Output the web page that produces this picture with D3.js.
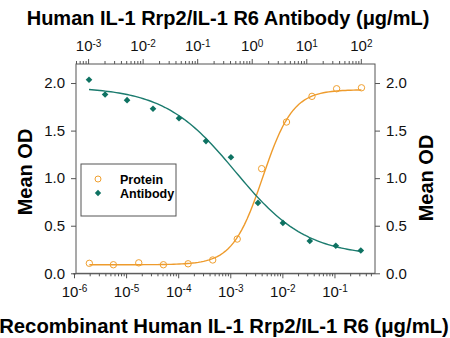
<!DOCTYPE html>
<html><head><meta charset="utf-8">
<script src="https://cdn.jsdelivr.net/npm/d3@7"></script>
<style>body{margin:0;background:#fff}svg{display:block;font-family:"Liberation Sans",Arial,sans-serif}</style>
</head><body>
<svg id="c" width="450" height="338"></svg>
<script>
// Protein (bottom axis, µg/mL)
const proteinConc = [1.97e-6,5.7e-6,1.75e-5,5.2e-5,1.55e-4,4.6e-4,1.36e-3,4.0e-3,0.012,0.037,0.11,0.33];
const proteinOD   = [0.105,0.09,0.11,0.09,0.10,0.14,0.36,1.10,1.59,1.86,1.94,1.95];
// Antibody (top axis, µg/mL)
const antibodyConc = [1.04e-3,2.05e-3,5.18e-3,0.0155,0.0464,0.145,0.416,1.30,3.73,11.6,34.8,100];
const antibodyOD   = [2.035,1.88,1.82,1.73,1.63,1.39,1.22,0.74,0.53,0.34,0.29,0.24];
// 4-parameter logistic fit parameters: [bottom, top, EC50, hill]
const proteinFit  = [0.09, 1.93, 4.2e-3, 1.5];
const antibodyFit = [0.18, 1.96, 0.5, 0.666];
const yTicks = [0,0.5,1.0,1.5,2.0];
const bottomTicks = [-6,-5,-4,-3,-2,-1];
const topTicks = [-3,-2,-1,0,1,2];

const svg = d3.select("#c");
const L=76, R=375, T=64, B=273.3;
const x = d3.scaleLog().domain([1e-6,0.6]).range([74,R]);
const xt = d3.scaleLog().domain([Math.pow(10,-3.24),Math.pow(10,2.26)]).range([75,R]);
const y = d3.scaleLinear().domain([0,2.2]).range([B,T]);

const orange="#F0A030", orangeLine="#EE9B2C", green="#0E7262", greenLine="#1B7B6E", axisC="#555";

// frame
svg.append("rect").attr("x",L).attr("y",T).attr("width",R-L).attr("height",B-T)
  .attr("fill","none").attr("stroke",axisC).attr("stroke-width",1);

function minorVals(lo,hi){const a=[];for(let e=lo;e<=hi;e++)for(let m=2;m<=9;m++)a.push(m*Math.pow(10,e));return a;}
function supLabels(g){
  g.selectAll(".tick text").each(function(d){
    const t=d3.select(this); t.text(null);
    t.append("tspan").text("10");
    t.append("tspan").attr("dy","-0.45em").attr("font-size","10px").text(Math.round(Math.log10(d)));
  });
}
// bottom axis
const gb = svg.append("g").attr("transform",`translate(0,${B})`);
gb.call(d3.axisBottom(x).tickValues(minorVals(-6,-1).filter(v=>v>=1e-6&&v<=0.6)).tickSize(3).tickFormat(""));
gb.select(".domain").remove();
const gb2 = svg.append("g").attr("transform",`translate(0,${B})`);
gb2.call(d3.axisBottom(x).tickValues(bottomTicks.map(e=>Math.pow(10,e))).tickSize(5).tickPadding(8));
gb2.select(".domain").attr("stroke",axisC).attr("d",`M73,0.5H${R}`);
gb2.selectAll(".tick text").attr("font-size","15px").attr("fill","#111");
supLabels(gb2);
[gb,gb2].forEach(g=>g.selectAll(".tick line").attr("stroke",axisC));

// top axis
const gt = svg.append("g").attr("transform",`translate(0,${T})`);
gt.call(d3.axisTop(xt).tickValues(minorVals(-4,2).filter(v=>v>=Math.pow(10,-3.24)&&v<=Math.pow(10,2.26))).tickSize(3).tickFormat(""));
gt.select(".domain").remove();
const gt2 = svg.append("g").attr("transform",`translate(0,${T})`);
gt2.call(d3.axisTop(xt).tickValues(topTicks.map(e=>Math.pow(10,e))).tickSize(5).tickPadding(8));
gt2.select(".domain").remove();
gt2.selectAll(".tick text").attr("font-size","15px").attr("fill","#111");
supLabels(gt2);
[gt,gt2].forEach(g=>g.selectAll(".tick line").attr("stroke",axisC));

// left/right axes
const gl = svg.append("g").attr("transform",`translate(${L},0)`)
  .call(d3.axisLeft(y).tickValues(yTicks).tickSize(5).tickPadding(6).tickFormat(d3.format(".1f")));
const gr = svg.append("g").attr("transform",`translate(${R},0)`)
  .call(d3.axisRight(y).tickValues(yTicks).tickSize(5).tickPadding(6).tickFormat(d3.format(".1f")));
[gl,gr].forEach(g=>{g.select(".domain").remove();g.selectAll(".tick line").attr("stroke",axisC);
  g.selectAll(".tick text").attr("font-size","15px").attr("fill","#111");});

// fitted curves
function logistic(p,c,up){const [b,t,ec,h]=p;return up? b+(t-b)/(1+Math.pow(ec/c,h)) : b+(t-b)/(1+Math.pow(c/ec,h));}
function curvePts(conc,p,up){const lo=Math.log10(d3.min(conc)),hi=Math.log10(d3.max(conc));
  return d3.range(0,101).map(i=>{const c=Math.pow(10,lo+(hi-lo)*i/100);return [c,logistic(p,c,up)];});}
const line = sx=>d3.line().x(d=>sx(d[0])).y(d=>y(d[1]));
svg.append("path").datum(curvePts(proteinConc,proteinFit,true)).attr("d",line(x))
  .attr("fill","none").attr("stroke",orangeLine).attr("stroke-width",1.4);
svg.append("path").datum(curvePts(antibodyConc,antibodyFit,false)).attr("d",line(xt))
  .attr("fill","none").attr("stroke",greenLine).attr("stroke-width",1.4);

// points
svg.append("g").selectAll("circle").data(proteinConc).join("circle")
  .attr("cx",d=>x(d)).attr("cy",(d,i)=>y(proteinOD[i])).attr("r",3.2)
  .attr("fill","none").attr("stroke",orange).attr("stroke-width",1);
svg.append("g").selectAll("path").data(antibodyConc).join("path")
  .attr("d",d3.symbol().type(d3.symbolSquare).size(22))
  .attr("transform",(d,i)=>`translate(${xt(d)},${y(antibodyOD[i])}) rotate(45)`)
  .attr("fill",green);

// legend
const lg = svg.append("g");
lg.append("rect").attr("x",81).attr("y",164).attr("width",95).attr("height",52)
  .attr("fill","#fff").attr("stroke",axisC);
lg.append("circle").attr("cx",98).attr("cy",179).attr("r",3).attr("fill","none").attr("stroke",orange);
lg.append("path").attr("d",d3.symbol().type(d3.symbolSquare).size(20)).attr("transform","translate(98,193) rotate(45)").attr("fill",green);
lg.append("text").attr("x",120).attr("y",183.5).attr("font-size","12.5px").attr("font-weight","bold").text("Protein");
lg.append("text").attr("x",120).attr("y",198).attr("font-size","12.5px").attr("font-weight","bold").text("Antibody");

// titles
svg.append("text").attr("x",228).attr("y",25).attr("text-anchor","middle").attr("font-size","20px")
  .attr("font-weight","bold").text("Human IL-1 Rrp2/IL-1 R6 Antibody (μg/mL)");
svg.append("text").attr("x",224).attr("y",333).attr("text-anchor","middle").attr("font-size","20.3px")
  .attr("font-weight","bold").text("Recombinant Human IL-1 Rrp2/IL-1 R6 (μg/mL)");
svg.append("text").attr("transform","translate(32,172) rotate(-90)").attr("text-anchor","middle")
  .attr("font-size","20px").attr("font-weight","bold").text("Mean OD");
svg.append("text").attr("transform","translate(433,178) rotate(-90)").attr("text-anchor","middle")
  .attr("font-size","20px").attr("font-weight","bold").text("Mean OD");
</script>
</body></html>
